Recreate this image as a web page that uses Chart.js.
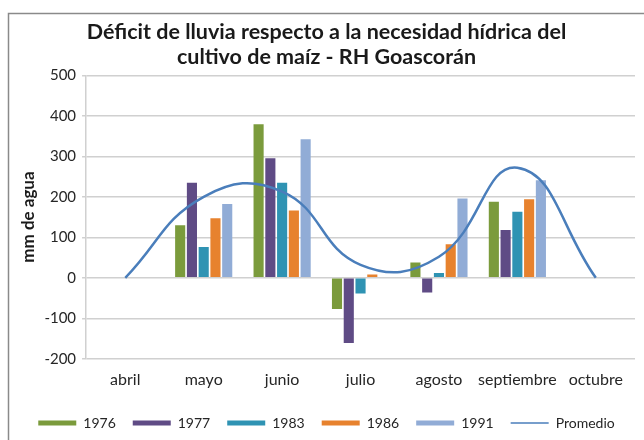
<!DOCTYPE html>
<html lang="es">
<head>
<meta charset="utf-8">
<title>Déficit de lluvia - RH Goascorán</title>
<script src="https://cdn.jsdelivr.net/npm/chart.js@4.4.1/dist/chart.umd.min.js"></script>
<style>
    html, body { margin: 0; padding: 0; background: #fff; overflow: hidden; }
    canvas { display: block; }
</style>
</head>
<body>
<canvas id="deficitChart" width="644" height="440"></canvas>
<script>
    // Months of the maize growing season
    const months = ['abril', 'mayo', 'junio', 'julio', 'agosto', 'septiembre', 'octubre'];

    // Rain deficit per year (mm de agua); null where there is no bar
    const deficit1976 = [null, 130, 379, -77, 38, 188, null];
    const deficit1977 = [null, 235, 295, -161, -36, 118, null];
    const deficit1983 = [null, 76, 235, -39, 12, 163, null];
    const deficit1986 = [null, 147, 166, 8, 83, 194, null];
    const deficit1991 = [null, 182, 342, null, 196, 241, null];
    const promedio = [0, 200, 213, 32, 52, 272, 0];

    const yTicks = [-200, -100, 0, 100, 200, 300, 400, 500];

    const fontFamily = 'Lato, "Open Sans", sans-serif';
    const textColor = '#262626';
    const gridColor = '#d0d0d0';

    function barSet(label, data, color) {
        return {
            type: 'bar',
            label: label,
            data: data,
            backgroundColor: color,
            borderWidth: 0,
            categoryPercentage: 0.75,
            barPercentage: 0.86,
            order: 2
        };
    }

    // Gray frame around the whole chart
    const framePlugin = {
        id: 'frame',
        beforeDraw(chart) {
            const ctx = chart.ctx;
            ctx.save();
            ctx.strokeStyle = '#8a8a8a';
            ctx.lineWidth = 1.5;
            ctx.strokeRect(8.5, 13.5, 720, 520);
            ctx.restore();
        }
    };

    const ctx = document.getElementById('deficitChart').getContext('2d');
    new Chart(ctx, {
        data: {
            labels: months,
            datasets: [
                barSet('1976', deficit1976, '#7b9b3c'),
                barSet('1977', deficit1977, '#5f4b85'),
                barSet('1983', deficit1983, '#2f93b3'),
                barSet('1986', deficit1986, '#e7822e'),
                barSet('1991', deficit1991, '#91acd6'),
                {
                    type: 'line',
                    label: 'Promedio',
                    data: promedio,
                    borderColor: '#4a7ebb',
                    backgroundColor: '#4a7ebb',
                    borderWidth: 2.5,
                    pointRadius: 0,
                    tension: 0.45,
                    fill: false,
                    order: 1
                }
            ]
        },
        options: {
            responsive: false,
            animation: false,
            layout: {
                padding: { left: 18, right: 9, top: 0, bottom: 0 }
            },
            plugins: {
                title: {
                    display: true,
                    text: ['Déficit de lluvia respecto a la necesidad hídrica del',
                           'cultivo de maíz - RH Goascorán'],
                    color: '#1a1a1a',
                    font: { family: fontFamily, size: 21.5, weight: 'bold', lineHeight: 1.17 },
                    padding: { top: 19, bottom: 6 }
                },
                legend: {
                    position: 'bottom',
                    labels: {
                        color: textColor,
                        font: { family: fontFamily, size: 14 },
                        usePointStyle: true,
                        pointStyleWidth: 38,
                        boxHeight: 5,
                        padding: 17,
                        sort: (a, b) => a.datasetIndex - b.datasetIndex,
                        generateLabels(chart) {
                            const items = Chart.defaults.plugins.legend.labels.generateLabels(chart);
                            items.forEach(item => {
                                const ds = chart.data.datasets[item.datasetIndex];
                                if (ds.type === 'line') {
                                    item.pointStyle = 'line';
                                    item.lineWidth = 1.5;
                                    item.strokeStyle = ds.borderColor;
                                } else {
                                    item.pointStyle = 'rect';
                                    item.lineWidth = 0;
                                }
                            });
                            return items;
                        }
                    }
                },
                tooltip: { enabled: false }
            },
            scales: {
                x: {
                    grid: { display: false },
                    border: { display: false },
                    ticks: {
                        color: textColor,
                        font: { family: fontFamily, size: 16 },
                        padding: 3,
                        autoSkip: false,
                        maxRotation: 0
                    },
                    // leave a gap between the month labels and the legend
                    afterFit(axis) {
                        axis.height += 7;
                    }
                },
                y: {
                    min: -200,
                    max: 500,
                    afterBuildTicks(axis) {
                        axis.ticks = yTicks.map(v => ({ value: v }));
                    },
                    grid: {
                        color: gridColor,
                        lineWidth: 1.5,
                        tickLength: 4,
                        tickColor: gridColor
                    },
                    border: { display: true, color: gridColor, width: 1.5 },
                    ticks: {
                        color: textColor,
                        font: { family: fontFamily, size: 15 },
                        padding: 6
                    },
                    title: {
                        display: true,
                        text: 'mm de agua',
                        color: '#1a1a1a',
                        font: { family: fontFamily, size: 17, weight: 'bold' },
                        padding: { top: 0, bottom: 0 }
                    }
                }
            }
        },
        plugins: [framePlugin]
    });
</script>
</body>
</html>
